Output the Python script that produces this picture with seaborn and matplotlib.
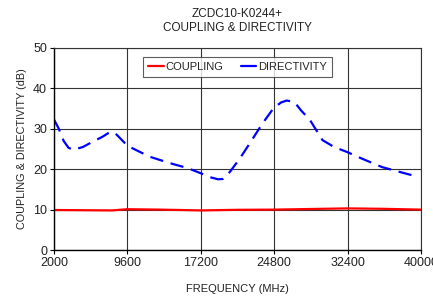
import pandas as pd
import seaborn as sns
import matplotlib.pyplot as plt

# Datos
freq_coup = [2000, 5000, 8000, 9600, 13000, 17200, 21000, 24800, 28500, 32400, 36000, 40000]
coupling = [9.9, 9.85, 9.8, 10.1, 10.0, 9.8, 9.95, 10.0, 10.15, 10.3, 10.2, 10.0]

freq_dir = [2000, 2500, 3000, 3500, 4000, 5000, 6000, 7000, 7800, 8300, 9000, 9600,
            11900, 14000, 15800, 17200, 18200, 19000, 19500, 20200, 21200, 22300,
            23500, 24700, 25500, 26100, 26900, 27600, 28500, 29800, 31000, 32300,
            34000, 36000, 38000, 39400]
directivity = [32.3, 30.0, 27.0, 25.3, 24.8, 25.5, 26.8, 28.0, 29.2, 29.0, 27.3, 25.8,
               23.1, 21.5, 20.3, 19.0, 18.0, 17.5, 17.6, 19.3, 22.5, 26.5,
               31.0, 35.0, 36.5, 37.0, 36.6, 34.5, 32.2, 27.2, 25.5, 24.3,
               22.5, 20.5, 19.2, 18.3]

xticks = [2000, 9600, 17200, 24800, 32400, 40000]
yticks = [0, 10, 20, 30, 40, 50]

datos = pd.concat([
    pd.DataFrame({'f': freq_coup, 'v': coupling, 'serie': 'COUPLING'}),
    pd.DataFrame({'f': freq_dir, 'v': directivity, 'serie': 'DIRECTIVITY'}),
])

sns.set_style("white")
plt.rcParams['font.family'] = ['Liberation Sans', 'DejaVu Sans']

fig = plt.figure(figsize=(4.33, 2.98), dpi=100)
ax = fig.add_axes([0.1247, 0.161, 0.8475, 0.678])

sns.lineplot(data=datos, x='f', y='v', hue='serie', style='serie',
             palette={'COUPLING': '#ff0000', 'DIRECTIVITY': '#0000ff'},
             dashes={'COUPLING': '', 'DIRECTIVITY': (6, 3.5)},
             linewidth=1.6, ax=ax, sort=False)

ax.set_xlim(2000, 40000)
ax.set_ylim(0, 50)
ax.set_xticks(xticks)
ax.set_yticks(yticks)
ax.set_xticklabels([str(t) for t in xticks], fontsize=9, color='#222222')
ax.set_yticklabels([str(t) for t in yticks], fontsize=9, color='#222222')
ax.grid(True, color='#333333', linewidth=0.8)
ax.tick_params(axis='both', direction='out', length=3, width=0.8, color='black',
               bottom=True, left=True, pad=2)
for s in ['top', 'right']:
    ax.spines[s].set_color('#333333')
    ax.spines[s].set_linewidth(0.8)
for s in ['left', 'bottom']:
    ax.spines[s].set_color('black')
    ax.spines[s].set_linewidth(1.0)

ax.set_xlabel('FREQUENCY (MHz)', fontsize=8, color='#222222', labelpad=11)
ax.set_ylabel('COUPLING & DIRECTIVITY (dB)', fontsize=7.8, color='#222222', labelpad=4)
ax.set_title('ZCDC10-K0244+\nCOUPLING & DIRECTIVITY', fontsize=8.5, color='#222222',
             pad=12, linespacing=1.25)

leg = ax.legend(loc='upper center', ncol=2, fontsize=8, frameon=True,
                fancybox=False, edgecolor='#333333', handlelength=1.4,
                handletextpad=0.15, columnspacing=1.6, borderpad=0.45,
                bbox_to_anchor=(0.5, 0.985))
leg.get_frame().set_linewidth(0.8)
for h in leg.get_lines():
    h.set_linestyle('-')

plt.savefig('out.png', dpi=100)
